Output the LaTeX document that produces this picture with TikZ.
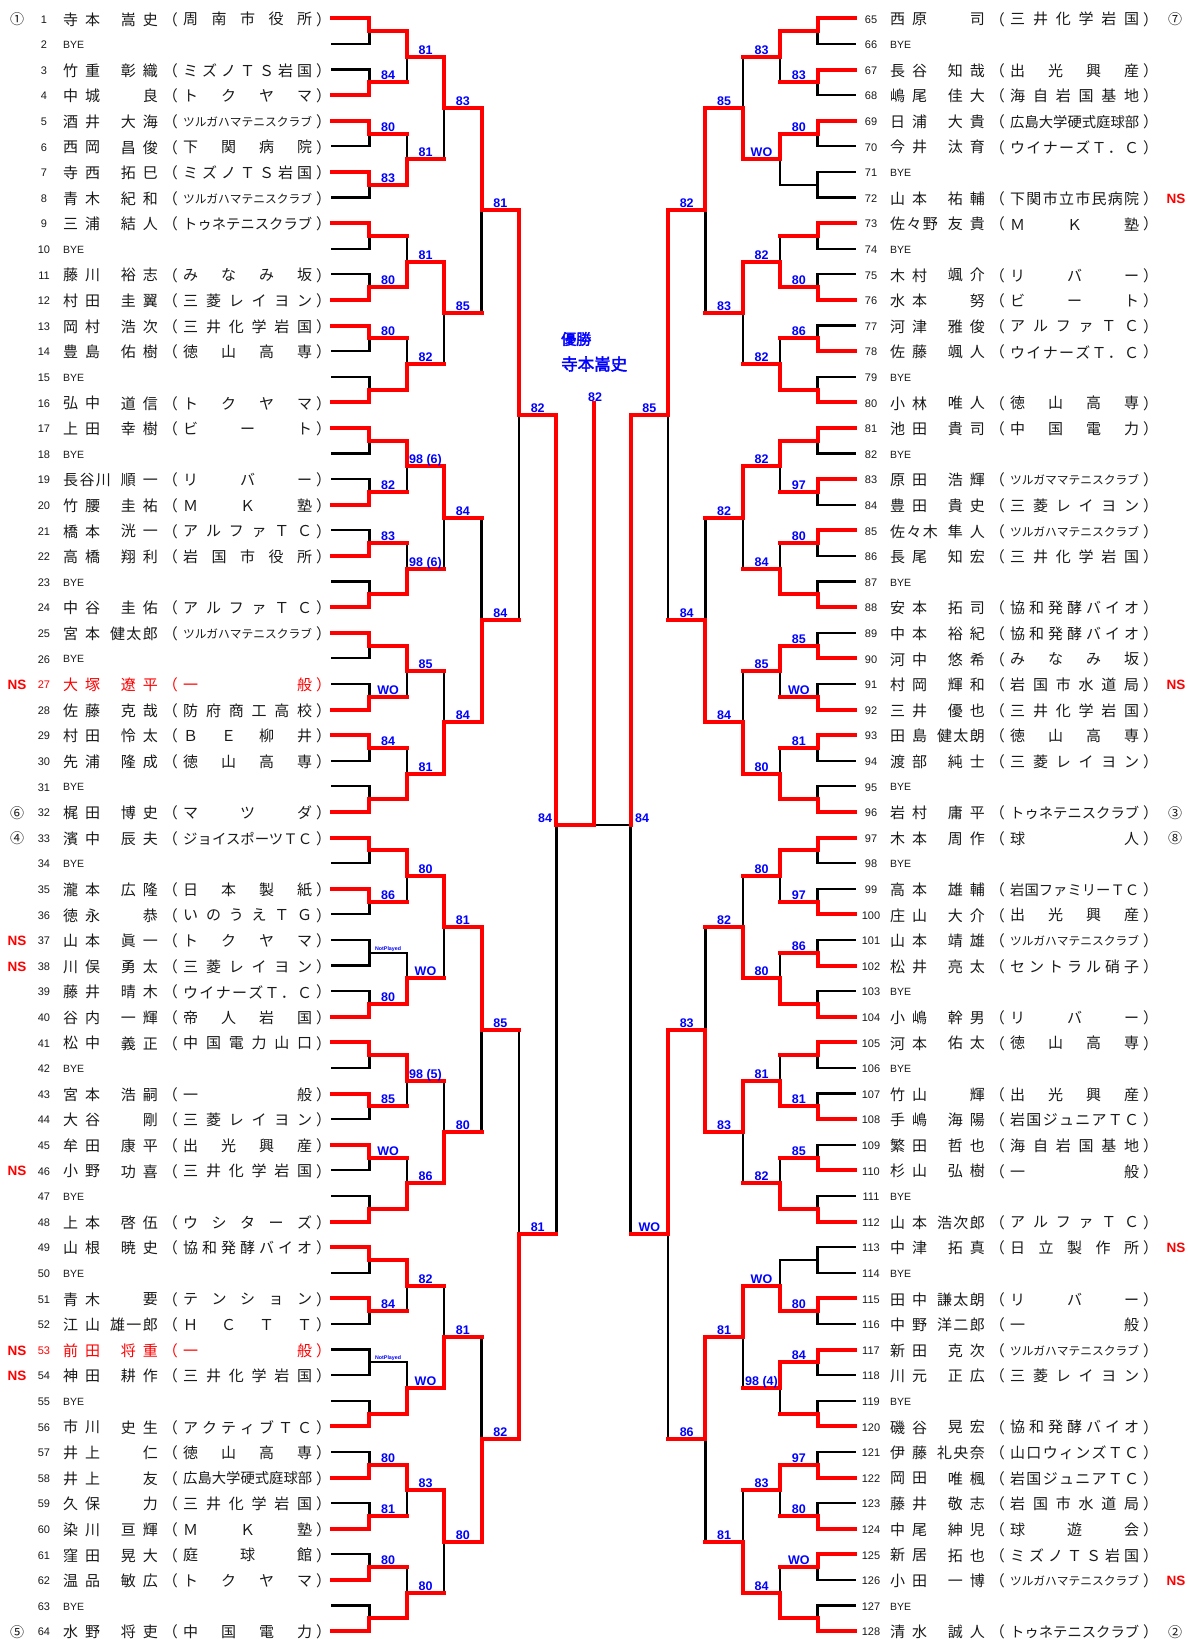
\documentclass[tikz,border=0pt]{standalone}
\usepackage{fontspec}
\usepackage{graphicx}
\setmainfont{Liberation Sans}
\newfontfamily\jp{Noto Sans CJK JP}
\newfontfamily\jpb[FakeBold=2.5]{Noto Sans CJK JP}
\newfontfamily\lsans{Liberation Sans}
\definecolor{tx}{HTML}{1A1A1A}
\definecolor{scblue}{RGB}{0,0,255}
\makeatletter
\def\spr#1{\spr@B#1\spr@end}
\def\spr@B#1#2\spr@end{\ifx\relax#2\relax\hfil#1\else#1\hfil\spr@A#2\spr@end\fi}
\def\spr@A#1#2\spr@end{#1\ifx\relax#2\relax\else\hfil\spr@A#2\spr@end\fi}
\makeatother
\newlength\nmw
\newcommand\namebox[2]{\settowidth\nmw{#2}\ifdim\nmw>#1\relax\makebox[1.06\nmw][s]{\spr{#2}}\else\makebox[#1][s]{\spr{#2}}\fi}
\newcommand\clubbox[2]{\settowidth\nmw{#2}\ifdim\nmw>#1\relax\resizebox{#1}{!}{#2}\else\makebox[#1][s]{\spr{#2}}\fi}
\tikzset{
  namelbl/.style={inner sep=0pt, font=\jp\fontsize{15}{15}\selectfont},
  numlbl/.style={inner sep=0pt, font=\lsans\fontsize{11}{11}\selectfont},
  byelbl/.style={inner sep=0pt, anchor=west, text=tx, font=\lsans\fontsize{10.5}{10.5}\selectfont},
  scorelbl/.style={inner sep=0pt, anchor=base, text=scblue, font=\lsans\bfseries\fontsize{12.5}{12.5}\selectfont},
  nplbl/.style={inner sep=0pt, anchor=base, text=scblue, font=\lsans\bfseries\fontsize{5.3}{5.3}\selectfont},
  nslbl/.style={inner sep=0pt, text=red, font=\lsans\bfseries\fontsize{13.5}{13.5}\selectfont},
  circlbl/.style={inner sep=0pt, text=tx, font=\jp\fontsize{14}{14}\selectfont},
  champlbl/.style={inner sep=0pt, anchor=west, text=scblue, font=\jpb\fontsize{15}{15}\selectfont},
  champname/.style={inner sep=0pt, anchor=west, text=scblue, font=\jpb\fontsize{16.5}{16.5}\selectfont},
  bl/.style={line width=2.3pt, black, line cap=rect},
  rd/.style={line width=4pt, red, line cap=rect},
}
\newcommand\rowy[1]{18.3+(#1-1)*25.6+1}
\newcommand\plr[7]{%
  \pgfmathsetmacro\yy{18.3+(#2-1)*25.6+1}%
  \node[numlbl,text=#7] at (#1+44,\yy) {#3};
  \node[namelbl,text=#7,anchor=west] at (#1+63,\yy) {\namebox{37pt}{#4}};
  \node[namelbl,text=#7,anchor=east] at (#1+158,\yy) {\namebox{37pt}{#5}};
  \node[namelbl,text=#7,anchor=east] at (#1+178,\yy) {（};
  \node[namelbl,text=#7,anchor=west] at (#1+316,\yy) {）};
  \node[namelbl,text=#7,anchor=west] at (#1+183,\yy) {\clubbox{129pt}{#6}};
}
\newcommand\Lp[4]{\plr{0}{#1}{#1}{#2}{#3}{#4}{tx}}
\newcommand\LpR[4]{\plr{0}{#1}{#1}{#2}{#3}{#4}{red}}
\newcommand\Rp[4]{\plr{827}{#1-64}{#1}{#2}{#3}{#4}{tx}}
\newcommand\Lb[1]{\node[numlbl,text=tx] at (44,{\rowy{#1}}) {#1};\node[byelbl] at (63,{\rowy{#1}}) {BYE};}
\newcommand\Rb[1]{\node[numlbl,text=tx] at (871,{\rowy{#1-64}}) {#1};\node[byelbl] at (890,{\rowy{#1-64}}) {BYE};}
\newcommand\bracket[4]{%
\foreach \rk/\mj/\mw/\ml in #1 {%
  \pgfmathtruncatemacro\nn{2^\rk}%
  \pgfmathtruncatemacro\hh{\nn/2}%
  \pgfmathtruncatemacro\ra{(\mj-1)*\nn+1}%
  \pgfmathsetmacro\yt{18.3+((2*\ra+\hh-1)/2-1)*25.6}%
  \pgfmathsetmacro\yb{18.3+((2*\ra+\hh+\nn-1)/2-1)*25.6}%
  \pgfmathsetmacro\ym{(\yt+\yb)/2}%
  \pgfmathsetmacro\xa{#2+(#3)*37.4*\rk}%
  \pgfmathsetmacro\xc{#2+(#3)*37.4*(\rk+1)}%
  \pgfmathsetmacro\xz{#2+(#3)*37.4*(\rk-1)}%
  \ifcase#4\relax
    \draw[bl] (\xa,\yt) -- (\xa,\yb);
    \ifnum\rk<6 \draw[bl] (\xa,\ym) -- (\xc,\ym);\fi
    \ifnum\rk=1 \draw[bl] (\xz,\yt) -- (\xa,\yt); \draw[bl] (\xz,\yb) -- (\xa,\yb);\fi
  \or
    \ifnum\mw=1 \draw[rd] (\xa,\yt) -- (\xa,\ym); \ifnum\rk=1 \draw[rd] (\xz,\yt) -- (\xa,\yt);\fi\fi
    \ifnum\mw=2 \draw[rd] (\xa,\ym) -- (\xa,\yb); \ifnum\rk=1 \draw[rd] (\xz,\yb) -- (\xa,\yb);\fi\fi
    \ifnum\mw>0 \ifnum\rk<6 \draw[rd] (\xa,\ym) -- (\xc,\ym);\fi\fi
  \or
    \ifnum\strcmp{\ml}{x}=0 \else
      \ifnum\strcmp{\ml}{NP}=0 \node[nplbl] at ({(\xa+\xc)/2},\ym-2.5) {NotPlayed};
      \else \node[scorelbl] at ({(\xa+\xc)/2},\ym-2.5) {\ml};\fi
    \fi
  \fi
}}
\def\leftdata{1/1/1/x,1/2/2/84,1/3/1/80,1/4/1/83,1/5/1/x,1/6/2/80,1/7/1/80,1/8/2/x,%
1/9/1/x,1/10/2/82,1/11/2/83,1/12/2/x,1/13/1/x,1/14/2/WO,1/15/1/84,1/16/2/x,%
1/17/1/x,1/18/1/86,1/19/0/NP,1/20/2/80,1/21/1/x,1/22/1/85,1/23/1/WO,1/24/2/x,%
1/25/1/x,1/26/1/84,1/27/0/NP,1/28/2/x,1/29/2/80,1/30/2/81,1/31/2/80,1/32/2/x,%
2/1/1/81,2/2/2/81,2/3/2/81,2/4/2/82,2/5/1/98 (6),2/6/2/98 (6),2/7/1/85,2/8/2/81,%
2/9/1/80,2/10/2/WO,2/11/1/98 (5),2/12/2/86,2/13/1/82,2/14/2/WO,2/15/1/83,2/16/2/80,%
3/1/1/83,3/2/1/85,3/3/1/84,3/4/2/84,3/5/1/81,3/6/2/80,3/7/2/81,3/8/1/80,%
4/1/1/81,4/2/2/84,4/3/1/85,4/4/2/82,%
5/1/1/82,5/2/2/81,%
6/1/1/x}
\def\rightdata{1/1/1/x,1/2/1/83,1/3/1/80,1/4/0/x,1/5/1/x,1/6/2/80,1/7/2/86,1/8/2/x,%
1/9/1/x,1/10/1/97,1/11/1/80,1/12/2/x,1/13/2/85,1/14/2/WO,1/15/1/81,1/16/2/x,%
1/17/1/x,1/18/2/97,1/19/2/86,1/20/2/x,1/21/1/x,1/22/2/81,1/23/2/85,1/24/2/x,%
1/25/0/x,1/26/1/80,1/27/1/84,1/28/2/x,1/29/2/97,1/30/2/80,1/31/1/WO,1/32/2/x,%
2/1/1/83,2/2/1/WO,2/3/2/82,2/4/2/82,2/5/1/82,2/6/2/84,2/7/1/85,2/8/2/80,%
2/9/1/80,2/10/2/80,2/11/2/81,2/12/2/82,2/13/2/WO,2/14/1/98 (4),2/15/1/83,2/16/2/84,%
3/1/2/85,3/2/1/83,3/3/1/82,3/4/2/84,3/5/2/82,3/6/1/83,3/7/1/81,3/8/2/81,%
4/1/1/82,4/2/2/84,4/3/2/83,4/4/1/86,%
5/1/1/85,5/2/1/WO,%
6/1/1/x}
\begin{document}
\begin{tikzpicture}[x=1pt,y=-1pt]
\fill[white] (0,0) rectangle (1188,1639);
\useasboundingbox (0,0) rectangle (1188,1639);
% black lines
\bracket{\leftdata}{332}{1}{0}
\bracket{\rightdata}{855}{-1}{0}
\coordinate (fr) at (630.6,824.7);
\coordinate (fl) at (556.4,824.7);
\coordinate (fc) at (593.5,824.7);
\coordinate (ft) at (593.5,403);
\draw[bl] (fr) -- (fc);
% red lines
\bracket{\leftdata}{332}{1}{1}
\bracket{\rightdata}{855}{-1}{1}
\draw[rd] (fl) -- (fc);
\draw[rd] (ft) -- (fc);
% scores
\bracket{\leftdata}{332}{1}{2}
\bracket{\rightdata}{855}{-1}{2}
\node[scorelbl] (fin) at (595,401) {82};
\node[scorelbl] (sfl) at (545,822) {84};
\node[scorelbl] (sfr) at (642,822) {84};
\node[champlbl] (yu) at (561,339) {優勝};
\node[champname] (ch) at (561,364) {寺本嵩史};
% left players
\Lp{1}{寺本}{嵩史}{周南市役所}
\Lb{2}
\Lp{3}{竹重}{彰織}{ミズノＴＳ岩国}
\Lp{4}{中城}{良}{トクヤマ}
\Lp{5}{酒井}{大海}{ツルガハマテニスクラブ}
\Lp{6}{西岡}{昌俊}{下関病院}
\Lp{7}{寺西}{拓巳}{ミズノＴＳ岩国}
\Lp{8}{青木}{紀和}{ツルガハマテニスクラブ}
\Lp{9}{三浦}{結人}{トゥネテニスクラブ}
\Lb{10}
\Lp{11}{藤川}{裕志}{みなみ坂}
\Lp{12}{村田}{圭翼}{三菱レイヨン}
\Lp{13}{岡村}{浩次}{三井化学岩国}
\Lp{14}{豊島}{佑樹}{徳山高専}
\Lb{15}
\Lp{16}{弘中}{道信}{トクヤマ}
\Lp{17}{上田}{幸樹}{ビート}
\Lb{18}
\Lp{19}{長谷川}{順一}{リバー}
\Lp{20}{竹腰}{圭祐}{ＭＫ塾}
\Lp{21}{橋本}{洸一}{アルファＴＣ}
\Lp{22}{高橋}{翔利}{岩国市役所}
\Lb{23}
\Lp{24}{中谷}{圭佑}{アルファＴＣ}
\Lp{25}{宮本}{健太郎}{ツルガハマテニスクラブ}
\Lb{26}
\LpR{27}{大塚}{遼平}{一般}
\Lp{28}{佐藤}{克哉}{防府商工高校}
\Lp{29}{村田}{怜太}{ＢＥ柳井}
\Lp{30}{先浦}{隆成}{徳山高専}
\Lb{31}
\Lp{32}{梶田}{博史}{マツダ}
\Lp{33}{濱中}{辰夫}{ジョイスポーツＴＣ}
\Lb{34}
\Lp{35}{瀧本}{広隆}{日本製紙}
\Lp{36}{徳永}{恭}{いのうえＴＧ}
\Lp{37}{山本}{眞一}{トクヤマ}
\Lp{38}{川俣}{勇太}{三菱レイヨン}
\Lp{39}{藤井}{晴木}{ウイナーズＴ．Ｃ}
\Lp{40}{谷内}{一輝}{帝人岩国}
\Lp{41}{松中}{義正}{中国電力山口}
\Lb{42}
\Lp{43}{宮本}{浩嗣}{一般}
\Lp{44}{大谷}{剛}{三菱レイヨン}
\Lp{45}{牟田}{康平}{出光興産}
\Lp{46}{小野}{功喜}{三井化学岩国}
\Lb{47}
\Lp{48}{上本}{啓伍}{ウシターズ}
\Lp{49}{山根}{暁史}{協和発酵バイオ}
\Lb{50}
\Lp{51}{青木}{要}{テンション}
\Lp{52}{江山}{雄一郎}{ＨＣＴＴ}
\LpR{53}{前田}{将重}{一般}
\Lp{54}{神田}{耕作}{三井化学岩国}
\Lb{55}
\Lp{56}{市川}{史生}{アクティブＴＣ}
\Lp{57}{井上}{仁}{徳山高専}
\Lp{58}{井上}{友}{広島大学硬式庭球部}
\Lp{59}{久保}{力}{三井化学岩国}
\Lp{60}{染川}{亘輝}{ＭＫ塾}
\Lp{61}{窪田}{晃大}{庭球館}
\Lp{62}{温品}{敏広}{トクヤマ}
\Lb{63}
\Lp{64}{水野}{将吏}{中国電力}
% right players
\Rp{65}{西原}{司}{三井化学岩国}
\Rb{66}
\Rp{67}{長谷}{知哉}{出光興産}
\Rp{68}{嶋尾}{佳大}{海自岩国基地}
\Rp{69}{日浦}{大貴}{広島大学硬式庭球部}
\Rp{70}{今井}{汰育}{ウイナーズＴ．Ｃ}
\Rb{71}
\Rp{72}{山本}{祐輔}{下関市立市民病院}
\Rp{73}{佐々野}{友貴}{ＭＫ塾}
\Rb{74}
\Rp{75}{木村}{颯介}{リバー}
\Rp{76}{水本}{努}{ビート}
\Rp{77}{河津}{雅俊}{アルファＴＣ}
\Rp{78}{佐藤}{颯人}{ウイナーズＴ．Ｃ}
\Rb{79}
\Rp{80}{小林}{唯人}{徳山高専}
\Rp{81}{池田}{貴司}{中国電力}
\Rb{82}
\Rp{83}{原田}{浩輝}{ツルガママテニスクラブ}
\Rp{84}{豊田}{貴史}{三菱レイヨン}
\Rp{85}{佐々木}{隼人}{ツルガハマテニスクラブ}
\Rp{86}{長尾}{知宏}{三井化学岩国}
\Rb{87}
\Rp{88}{安本}{拓司}{協和発酵バイオ}
\Rp{89}{中本}{裕紀}{協和発酵バイオ}
\Rp{90}{河中}{悠希}{みなみ坂}
\Rp{91}{村岡}{輝和}{岩国市水道局}
\Rp{92}{三井}{優也}{三井化学岩国}
\Rp{93}{田島}{健太朗}{徳山高専}
\Rp{94}{渡部}{純士}{三菱レイヨン}
\Rb{95}
\Rp{96}{岩村}{庸平}{トゥネテニスクラブ}
\Rp{97}{木本}{周作}{球人}
\Rb{98}
\Rp{99}{高本}{雄輔}{岩国ファミリーＴＣ}
\Rp{100}{庄山}{大介}{出光興産}
\Rp{101}{山本}{靖雄}{ツルガハマテニスクラブ}
\Rp{102}{松井}{亮太}{セントラル硝子}
\Rb{103}
\Rp{104}{小嶋}{幹男}{リバー}
\Rp{105}{河本}{佑太}{徳山高専}
\Rb{106}
\Rp{107}{竹山}{輝}{出光興産}
\Rp{108}{手嶋}{海陽}{岩国ジュニアＴＣ}
\Rp{109}{繁田}{哲也}{海自岩国基地}
\Rp{110}{杉山}{弘樹}{一般}
\Rb{111}
\Rp{112}{山本}{浩次郎}{アルファＴＣ}
\Rp{113}{中津}{拓真}{日立製作所}
\Rb{114}
\Rp{115}{田中}{謙太朗}{リバー}
\Rp{116}{中野}{洋二郎}{一般}
\Rp{117}{新田}{克次}{ツルガハマテニスクラブ}
\Rp{118}{川元}{正広}{三菱レイヨン}
\Rb{119}
\Rp{120}{磯谷}{晃宏}{協和発酵バイオ}
\Rp{121}{伊藤}{礼央奈}{山口ウィンズＴＣ}
\Rp{122}{岡田}{唯楓}{岩国ジュニアＴＣ}
\Rp{123}{藤井}{敬志}{岩国市水道局}
\Rp{124}{中尾}{紳児}{球遊会}
\Rp{125}{新居}{拓也}{ミズノＴＳ岩国}
\Rp{126}{小田}{一博}{ツルガハマテニスクラブ}
\Rb{127}
\Rp{128}{清水}{誠人}{トゥネテニスクラブ}
% seeds
\node[circlbl] (c1) at (17,{\rowy{1}}) {①};
\node[circlbl] (c6) at (17,{\rowy{32}}) {⑥};
\node[circlbl] (c4) at (17,{\rowy{33}}) {④};
\node[circlbl] (c5) at (17,{\rowy{64}}) {⑤};
\node[circlbl] (c7) at (1175,{\rowy{1}}) {⑦};
\node[circlbl] (c3) at (1175,{\rowy{32}}) {③};
\node[circlbl] (c8) at (1175,{\rowy{33}}) {⑧};
\node[circlbl] (c2) at (1175,{\rowy{64}}) {②};
% NS marks
\foreach \r in {27,37,38,46,53,54} {\node[nslbl] at (17,{\rowy{\r}}) {NS};}
\foreach \r in {8,27,49,62} {\node[nslbl] at (1176,{\rowy{\r}}) {NS};}
\end{tikzpicture}
\end{document}
